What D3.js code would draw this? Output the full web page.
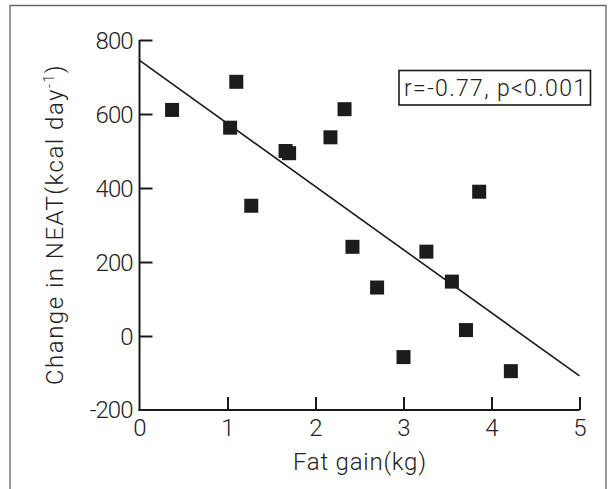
<!DOCTYPE html>
<html lang="en">
<head>
    <meta charset="UTF-8">
    <title>Fat gain vs change in NEAT</title>
    <script src="https://d3js.org/d3.v7.min.js"></script>
    <style>
        body{
            margin: 0;
            background-color: white;
        }
        #canvas{
            display: block;
        }
        text{
            font-family: Roboto, "Liberation Sans", sans-serif;
            font-weight: 300;
            fill: #222;
        }
        .axis path, .axis line{
            stroke: #1a1a1a;
            stroke-width: 2px;
        }
    </style>
</head>
<body>
    <svg id="canvas" width="610" height="489"></svg>
    <script>
        // values
        let fatGain = [0.37, 1.03, 1.10, 1.27, 1.66, 1.70, 2.17, 2.33, 2.42, 2.70, 3.00, 3.26, 3.55, 3.71, 3.86, 4.22];
        let neatChange = [611, 563, 687, 352, 500, 494, 537, 613, 241, 131, -57, 228, 147, 16, 390, -95];
        let fitLine = [[0, 745], [5, -108]];
        let xTicks = [0, 1, 2, 3, 4, 5];
        let yTicks = [-200, 0, 200, 400, 600, 800];
        let statsLabel = "r=-0.77,  p<0.001";

        let svg = d3.select('#canvas');

        // page frame
        svg.append("path")
            .attr("d", "M10,489 L10,5.5 L606,5.5 L606,489")
            .attr("fill", "none")
            .attr("stroke", "#666")
            .attr("stroke-width", 1.3);

        let xScale = d3.scaleLinear().domain([0, 5]).range([139.5, 579.5]);
        let yScale = d3.scaleLinear().domain([-200, 800]).range([410, 40]);

        // x axis, ticks pointing up
        let xAxis = svg.append("g").attr("class", "axis")
            .attr("transform", "translate(0,410)")
            .call(d3.axisBottom(xScale).tickValues(xTicks).tickFormat(d => String(d))
                .tickSizeInner(-13).tickSizeOuter(0));
        xAxis.selectAll(".tick").filter(d => d === 0).select("line").remove();
        xAxis.selectAll("text")
            .attr("y", 0)
            .attr("dy", "26")
            .style("font-size", "24px");

        // y axis, ticks pointing right
        let yAxis = svg.append("g").attr("class", "axis")
            .attr("transform", "translate(139.5,0)")
            .call(d3.axisLeft(yScale).tickValues(yTicks).tickFormat(d => String(d))
                .tickSizeInner(-13).tickSizeOuter(0));
        yAxis.selectAll(".tick").filter(d => d === -200).select("line").remove();
        yAxis.selectAll("text")
            .attr("x", -7)
            .attr("dy", "0.35em")
            .style("font-size", "24px")
            .style("letter-spacing", "-1px");
        yAxis.selectAll(".tick").filter(d => d === -200).select("text").attr("dy", "0.3em");
        xAxis.select(".domain").attr("d", "M" + (xScale(0) - 1) + ",0H" + xScale(5));
        yAxis.select(".domain").attr("d", "M0," + yScale(800) + "V" + (yScale(-200) + 1));

        // regression line
        let lineGen = d3.line().x(d => xScale(d[0])).y(d => yScale(d[1]));
        svg.append("path")
            .attr("d", lineGen(fitLine))
            .attr("fill", "none")
            .attr("stroke", "#1a1a1a")
            .attr("stroke-width", 1.6);

        // points
        let size = 14;
        svg.append("g").selectAll("rect")
            .data(fatGain)
            .enter()
            .append("rect")
            .attr("x", d => xScale(d) - size / 2)
            .attr("y", (d, i) => yScale(neatChange[i]) - size / 2)
            .attr("width", size)
            .attr("height", size)
            .attr("fill", "#1c1c1c");

        // stats box
        svg.append("rect")
            .attr("x", 399)
            .attr("y", 70.5)
            .attr("width", 191.5)
            .attr("height", 34.5)
            .attr("fill", "white")
            .attr("stroke", "#1a1a1a")
            .attr("stroke-width", 1.6);
        svg.append("text")
            .attr("x", 404)
            .attr("y", 96)
            .attr("textLength", 182)
            .style("font-size", "23px")
            .text(statsLabel);

        // axis titles
        svg.append("text")
            .attr("x", 293)
            .attr("y", 470)
            .attr("textLength", 133)
            .style("font-size", "24px")
            .text("Fat gain(kg)");

        let yTitle = svg.append("text")
            .attr("transform", "translate(63,385) rotate(-90)")
            .attr("x", 0)
            .attr("y", 0)
            .style("font-size", "24px")
            .style("letter-spacing", "1.5px");
        yTitle.append("tspan").text("Change in NEAT(kcal day");
        yTitle.append("tspan").attr("dy", -9).style("font-size", "14px").text("-1");
        yTitle.append("tspan").attr("dy", 9).text(")");
    </script>
</body>
</html>
